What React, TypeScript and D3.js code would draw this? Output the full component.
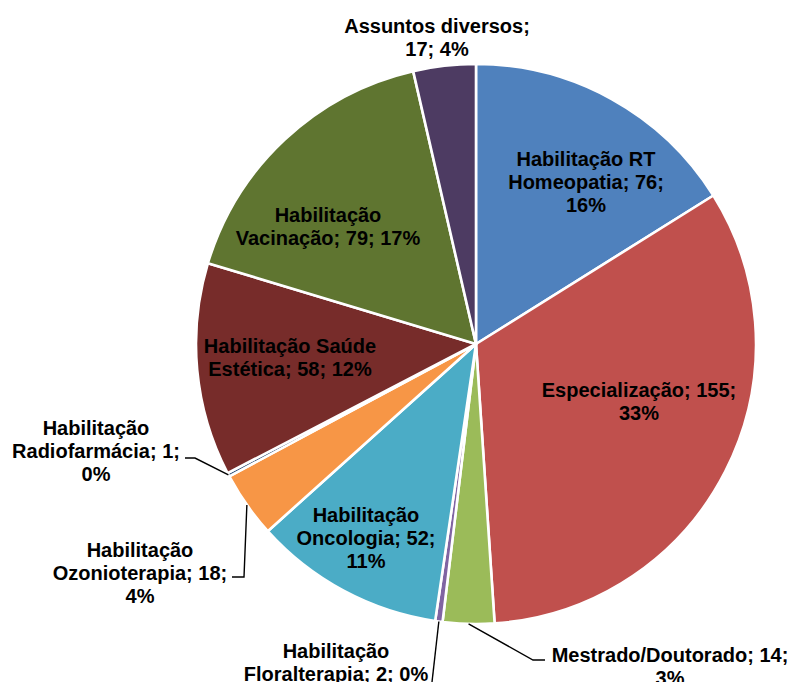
import React from 'react';
import * as d3 from 'd3';

// slice data, clockwise from 12 o'clock
const categories = [
  'Habilitação RT Homeopatia',
  'Especialização',
  'Mestrado/Doutorado',
  'Habilitação Floralterapia',
  'Habilitação Oncologia',
  'Habilitação Ozonioterapia',
  'Habilitação Radiofarmácia',
  'Habilitação Saúde Estética',
  'Habilitação Vacinação',
  'Assuntos diversos',
];
const values = [76, 155, 14, 2, 52, 18, 1, 58, 79, 17];
const percents = ['16%', '33%', '3%', '0%', '11%', '4%', '0%', '12%', '17%', '4%'];

// label text, broken the way the original wraps it
const labelLines = [
  ['Habilitação RT', 'Homeopatia; 76;', '16%'],
  ['Especialização; 155;', '33%'],
  ['Mestrado/Doutorado; 14;', '3%'],
  ['Habilitação', 'Floralterapia; 2; 0%'],
  ['Habilitação', 'Oncologia; 52;', '11%'],
  ['Habilitação', 'Ozonioterapia; 18;', '4%'],
  ['Habilitação', 'Radiofarmácia; 1;', '0%'],
  ['Habilitação Saúde', 'Estética; 58; 12%'],
  ['Habilitação', 'Vacinação; 79; 17%'],
  ['Assuntos diversos;', '17; 4%'],
];

const colors = ['#4F81BD', '#C0504D', '#9BBB59', '#8064A2', '#4BACC6', '#F79646', '#2C4D75', '#772C2A', '#5F7530', '#4D3B62'];

// layout: label block centres and leader line bends (null = no leader)
const labelAt: [number, number][] = [
  [586, 182], [639, 401], [670, 666], [336, 662], [366, 538],
  [140, 573], [96, 451], [290, 357], [328, 226], [437, 37],
];
const leaderBends: ([number, number][] | null)[] = [
  null, null, [[533, 660], [545, 660]], [[432, 682]], null,
  [[244, 577], [232, 577]], [[195, 458], [185, 458]], null, null, null,
];

const W = 794;
const H = 682;
const cx = 476;
const cy = 344;
const R = 280;
const lineH = 23;

export default function App() {
  const pie = d3.pie<number>().sort(null).value(d => d).startAngle(0).endAngle(2 * Math.PI);
  const arcs = pie(values);
  const arc = d3.arc<d3.PieArcDatum<number>>().innerRadius(0).outerRadius(R);
  const edge = d3.arc<d3.PieArcDatum<number>>().innerRadius(R).outerRadius(R);

  return (
    <svg width={W} height={H} style={{ position: 'absolute', left: 0, top: 0, background: '#fff' }}
      fontFamily="'Liberation Sans', Arial, sans-serif">
      <g transform={`translate(${cx},${cy})`}>
        {arcs.map((a, i) => (
          <path key={categories[i]} d={arc(a) || ''} fill={colors[i]} stroke="#fff" strokeWidth={2.6} strokeLinejoin="round" />
        ))}
      </g>
      {arcs.map((a, i) => {
        const bends = leaderBends[i];
        if (!bends) return null;
        const [sx, sy] = edge.centroid(a);
        const pts: [number, number][] = [[cx + sx, cy + sy], ...bends];
        return <path key={'l' + i} d={d3.line()(pts) || ''} fill="none" stroke="#000" strokeWidth={1.4} />;
      })}
      {labelLines.map((lines, i) => {
        const [lx, ly] = labelAt[i];
        return (
          <text key={'t' + i} x={lx} textAnchor="middle" fontSize={20} fontWeight="bold" fill="#000">
            {lines.map((ln, j) => (
              <tspan key={j} x={lx} y={ly + (j - (lines.length - 1) / 2) * lineH} dominantBaseline="central">{ln}</tspan>
            ))}
          </text>
        );
      })}
    </svg>
  );
}
